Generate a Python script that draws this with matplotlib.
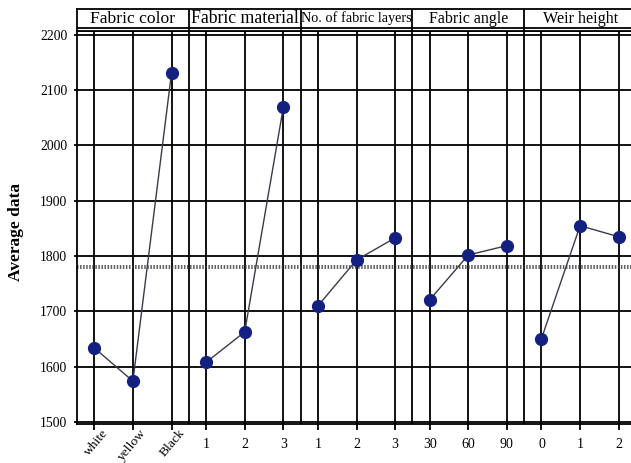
import matplotlib
matplotlib.use('Agg')
import matplotlib.pyplot as plt
import matplotlib.transforms as mtransforms
import numpy as np

plt.rcParams['font.family'] = ['Liberation Serif', 'DejaVu Serif']

factors = ["Fabric color", "Fabric material", "No. of fabric layers", "Fabric angle", "Weir height"]
factor_sizes = [12.6, 12.8, 10.3, 11.5, 11.6]
levels = [["white", "yellow", "Black"], ["1", "2", "3"], ["1", "2", "3"], ["30", "60", "90"], ["0", "1", "2"]]
fabric_color = [1634, 1574, 2131]
fabric_material = [1608, 1663, 2069]
fabric_layers = [1710, 1793, 1833]
fabric_angle = [1721, 1802, 1819]
weir_height = [1651, 1855, 1835]
series = [fabric_color, fabric_material, fabric_layers, fabric_angle, weir_height]
yticks = [1500, 1600, 1700, 1800, 1900, 2000, 2100, 2200]

W = 2.896
off = (W - 2) / 2
FW, FH = 631, 463

fig = plt.figure(figsize=(FW / 100, FH / 100), dpi=100)
L, R, T, B = 77, 636, 31, 424
ax = fig.add_axes([L / FW, 1 - B / FH, (R - L) / FW, (B - T) / FH])
ax.set_xlim(0, 5 * W)
ax.set_ylim(1496.5, 2207)

lw = 1.3
ax.set_yticks(yticks)
ax.set_yticklabels([str(v) for v in yticks], fontsize=9.8)
ax.grid(axis='y', color='black', lw=lw)
for s in ax.spines.values():
    s.set_linewidth(lw)
    s.set_color('black')

allx, alllab = [], []
for p, (vals, labs) in enumerate(zip(series, levels)):
    xs = p * W + off + np.arange(len(vals))
    allx.extend(xs)
    alllab.extend(labs)
    for x in xs:
        ax.axvline(x, color='black', lw=lw, zorder=1)
    if p > 0:
        ax.axvline(p * W, color='black', lw=lw, zorder=1)
    ax.plot(xs, vals, color='#3a3a4a', lw=1.0, zorder=3)
    ax.plot(xs, vals, 'o', color='#142080', ms=8.5, zorder=4)

mean = np.mean([v for s_ in series for v in s_])
ax.axhline(mean + 2.2, color='#333333', lw=1.1, ls=(0, (1, 1)), zorder=2)
ax.axhline(mean - 2.2, color='#333333', lw=1.1, ls=(0, (1, 1)), zorder=2)

ax.set_xticks(allx)
ax.set_xticklabels([lab if i >= 3 else "" for i, lab in enumerate(alllab)], fontsize=10)
ax.tick_params(axis='x', length=4, width=lw, pad=6)
ax.tick_params(axis='y', length=2, width=lw, pad=5)

shift = mtransforms.ScaledTranslation(0.07, -0.03, fig.dpi_scale_trans)
for x, lab in zip(allx[:3], alllab[:3]):
    ax.text(x, 0, lab, transform=ax.get_xaxis_transform() + shift,
            rotation=50, rotation_mode='anchor', ha='right', va='top', fontsize=9.7)

fig.text(16.5 / FW, 1 - 232 / FH, "Average data", rotation=90, ha='center', va='center',
         fontsize=12.5, fontweight='bold')

# header
HT = 9
hax = fig.add_axes([L / FW, 1 - T / FH, (R - L) / FW, (T - HT) / FH])
hax.set_xlim(0, 5 * W)
hax.set_ylim(0, 1)
hax.set_xticks([])
hax.set_yticks([])
for s in hax.spines.values():
    s.set_linewidth(lw)
hax.axhline((T - 28.3) / (T - HT), color='black', lw=lw)
for p in range(1, 5):
    hax.axvline(p * W, color='black', lw=lw)
ycen = (T - 18.6) / (T - HT)
for p, (name, fs) in enumerate(zip(factors, factor_sizes)):
    hax.text(p * W + W / 2, ycen, name, ha='center', va='center', fontsize=fs)

fig.savefig('out.png', dpi=100)
